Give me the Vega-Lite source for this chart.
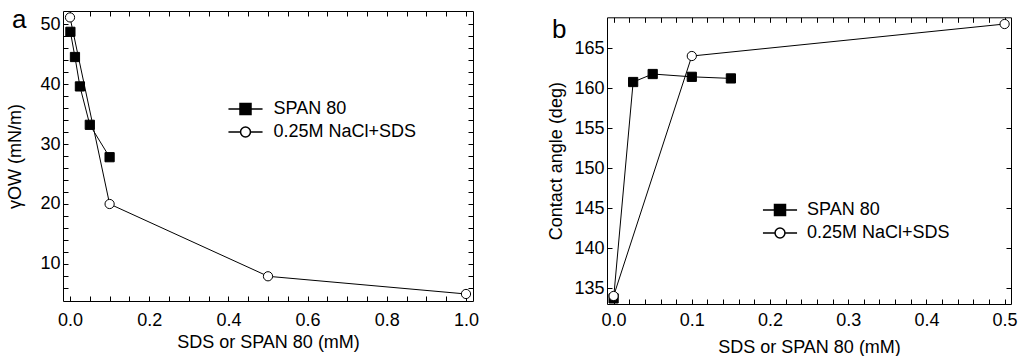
{
  "$schema": "https://vega.github.io/schema/vega-lite/v6.json",
  "background": "white",
  "padding": {"left": 6, "top": 6, "right": 0, "bottom": 0},
  "config": {
    "view": {"stroke": null},
    "font": "Liberation Sans",
    "axis": {
      "domainColor": "black", "domainWidth": 1,
      "tickColor": "black", "tickWidth": 1, "tickSize": -5,
      "labelColor": "black", "titleColor": "black",
      "labelFont": "Liberation Sans", "titleFont": "Liberation Sans",
      "labelFontSize": 18, "titleFontSize": 18, "titleFontWeight": "normal",
      "grid": false, "labelFlush": false, "labelOverlap": false, "labelBound": false
    },
    "legend": {
      "labelFont": "Liberation Sans", "labelFontSize": 18, "labelColor": "black",
      "padding": 0
    }
  },
  "datasets": {
    "a": [
      {"conc": 0.001, "val": 48.7, "series": "SPAN 80"},
      {"conc": 0.0125, "val": 44.5, "series": "SPAN 80"},
      {"conc": 0.025, "val": 39.6, "series": "SPAN 80"},
      {"conc": 0.05, "val": 33.2, "series": "SPAN 80"},
      {"conc": 0.1, "val": 27.8, "series": "SPAN 80"},
      {"conc": 0.0, "val": 51.1, "series": "0.25M NaCl+SDS"},
      {"conc": 0.1, "val": 20.0, "series": "0.25M NaCl+SDS"},
      {"conc": 0.5, "val": 7.95, "series": "0.25M NaCl+SDS"},
      {"conc": 1.0, "val": 5.0, "series": "0.25M NaCl+SDS"}
    ],
    "b": [
      {"conc": 0.0, "val": 133.7, "series": "SPAN 80"},
      {"conc": 0.025, "val": 160.75, "series": "SPAN 80"},
      {"conc": 0.05, "val": 161.75, "series": "SPAN 80"},
      {"conc": 0.1, "val": 161.4, "series": "SPAN 80"},
      {"conc": 0.15, "val": 161.2, "series": "SPAN 80"},
      {"conc": 0.0, "val": 134.0, "series": "0.25M NaCl+SDS"},
      {"conc": 0.1, "val": 164.0, "series": "0.25M NaCl+SDS"},
      {"conc": 0.5, "val": 168.0, "series": "0.25M NaCl+SDS"}
    ]
  },
  "bounds": "flush",
  "spacing": 134,
  "resolve": {
    "scale": {"fill": "independent", "shape": "independent"},
    "legend": {"fill": "independent", "shape": "independent"}
  },
  "hconcat": [
    {
      "width": 410, "height": 290,
      "title": {"text": "a", "anchor": "start", "frame": "group", "offset": 0, "baseline": "alphabetic", "dx": -51, "dy": 43, "fontSize": 26, "fontWeight": "normal", "font": "Liberation Sans", "color": "black"},
      "data": {"name": "a"},
      "resolve": {"axis": {"x": "independent", "y": "independent"}},
      "layer": [
        {
          "mark": {"type": "line", "color": "black", "strokeWidth": 1},
          "encoding": {
            "x": {"field": "conc", "type": "quantitative",
              "scale": {"domain": [-0.0177, 1.0177], "nice": false, "zero": false},
              "axis": {"orient": "bottom", "title": "SDS or SPAN 80 (mM)",
                "values": [0,0.05,0.1,0.15,0.2,0.25,0.3,0.35,0.4,0.45,0.5,0.55,0.6,0.65,0.7,0.75,0.8,0.85,0.9,0.95,1],
                "labelExpr": "round(datum.value*100) % 20 === 0 ? format(datum.value, '.1f') : ''",
                "labelPadding": 15, "titlePadding": 4}},
            "y": {"field": "val", "type": "quantitative",
              "scale": {"domain": [3.83, 52.17], "nice": false, "zero": false},
              "axis": {"orient": "left", "title": "γOW (mN/m)",
                "values": [6,8,10,12,14,16,18,20,22,24,26,28,30,32,34,36,38,40,42,44,46,48,50],
                "labelExpr": "datum.value % 10 === 0 ? '' + datum.value : ''",
                "labelPadding": 8, "titlePadding": 15.5}},
            "detail": {"field": "series"}
          }
        },
        {
          "mark": {"type": "point", "filled": true, "stroke": "black", "strokeWidth": 1, "opacity": 1, "size": 85},
          "encoding": {
            "x": {"field": "conc", "type": "quantitative",
              "axis": {"orient": "top", "labels": false, "title": null,
                "values": [0,0.05,0.1,0.15,0.2,0.25,0.3,0.35,0.4,0.45,0.5,0.55,0.6,0.65,0.7,0.75,0.8,0.85,0.9,0.95,1]}},
            "y": {"field": "val", "type": "quantitative",
              "axis": {"orient": "right", "labels": false, "title": null,
                "values": [6,8,10,12,14,16,18,20,22,24,26,28,30,32,34,36,38,40,42,44,46,48,50]}},
            "shape": {"condition": {"test": "datum.series === 'SPAN 80'", "value": "square"}, "value": "circle"},
            "fill": {"condition": {"test": "datum.series === 'SPAN 80'", "value": "black"}, "value": "white"}
          }
        },
        {
          "mark": {"type": "point", "filled": true, "stroke": "black", "strokeWidth": 1, "opacity": 1, "size": 0},
          "encoding": {
            "x": {"field": "conc", "type": "quantitative", "axis": null},
            "y": {"field": "val", "type": "quantitative", "axis": null},
            "shape": {"field": "series", "type": "nominal",
              "scale": {"domain": ["SPAN 80", "0.25M NaCl+SDS"], "range": ["M-1.55,0H1.55M-0.5,-0.5H0.5V0.5H-0.5Z", "M-1.55,0H-0.45M0.45,0H1.55M-0.45,0C-0.45,-0.2485,-0.2485,-0.45,0,-0.45C0.2485,-0.45,0.45,-0.2485,0.45,0C0.45,0.2485,0.2485,0.45,0,0.45C-0.2485,0.45,-0.45,0.2485,-0.45,0Z"]},
              "legend": {"title": null, "orient": "none", "legendX": 170.5, "legendY": 86, "symbolSize": 484, "rowPadding": 2, "labelOffset": 16}},
            "fill": {"field": "series", "type": "nominal",
              "scale": {"domain": ["SPAN 80", "0.25M NaCl+SDS"], "range": ["black", "white"]},
              "legend": {"title": null, "orient": "none", "legendX": 170.5, "legendY": 86, "symbolSize": 484, "rowPadding": 2, "labelOffset": 16}}
          }
        }
      ]
    },
    {
      "width": 404, "height": 293,
      "title": {"text": "b", "anchor": "start", "frame": "group", "offset": 0, "baseline": "alphabetic", "dx": -55, "dy": 53, "fontSize": 26, "fontWeight": "normal", "font": "Liberation Sans", "color": "black"},
      "data": {"name": "b"},
      "resolve": {"axis": {"x": "independent", "y": "independent"}},
      "layer": [
        {
          "mark": {"type": "line", "color": "black", "strokeWidth": 1},
          "encoding": {
            "x": {"field": "conc", "type": "quantitative",
              "scale": {"domain": [-0.00844, 0.50818], "nice": false, "zero": false},
              "axis": {"orient": "bottom", "title": "SDS or SPAN 80 (mM)",
                "values": [0,0.02,0.04,0.06,0.08,0.1,0.12,0.14,0.16,0.18,0.2,0.22,0.24,0.26,0.28,0.3,0.32,0.34,0.36,0.38,0.4,0.42,0.44,0.46,0.48,0.5],
                "labelExpr": "round(datum.value*100) % 10 === 0 ? format(datum.value, '.1f') : ''",
                "labelPadding": 12, "titlePadding": 9}},
            "y": {"field": "val", "type": "quantitative",
              "scale": {"domain": [133, 168.84], "range": [293, 6.3], "nice": false, "zero": false},
              "axis": {"orient": "left", "title": "Contact angle (deg)",
                "values": [135,140,145,150,155,160,165],
                "labelPadding": 8, "titlePadding": 8.5}},
            "detail": {"field": "series"}
          }
        },
        {
          "mark": {"type": "point", "filled": true, "stroke": "black", "strokeWidth": 1, "opacity": 1, "size": 85},
          "encoding": {
            "x": {"field": "conc", "type": "quantitative",
              "axis": {"orient": "top", "labels": false, "title": null, "offset": -6.3,
                "values": [0,0.02,0.04,0.06,0.08,0.1,0.12,0.14,0.16,0.18,0.2,0.22,0.24,0.26,0.28,0.3,0.32,0.34,0.36,0.38,0.4,0.42,0.44,0.46,0.48,0.5]}},
            "y": {"field": "val", "type": "quantitative",
              "axis": {"orient": "right", "labels": false, "title": null,
                "values": [135,140,145,150,155,160,165]}},
            "shape": {"condition": {"test": "datum.series === 'SPAN 80'", "value": "square"}, "value": "circle"},
            "fill": {"condition": {"test": "datum.series === 'SPAN 80'", "value": "black"}, "value": "white"}
          }
        },
        {
          "mark": {"type": "point", "filled": true, "stroke": "black", "strokeWidth": 1, "opacity": 1, "size": 0},
          "encoding": {
            "x": {"field": "conc", "type": "quantitative", "axis": null},
            "y": {"field": "val", "type": "quantitative", "axis": null},
            "shape": {"field": "series", "type": "nominal",
              "scale": {"domain": ["SPAN 80", "0.25M NaCl+SDS"], "range": ["M-1.55,0H1.55M-0.5,-0.5H0.5V0.5H-0.5Z", "M-1.55,0H-0.45M0.45,0H1.55M-0.45,0C-0.45,-0.2485,-0.2485,-0.45,0,-0.45C0.2485,-0.45,0.45,-0.2485,0.45,0C0.45,0.2485,0.2485,0.45,0,0.45C-0.2485,0.45,-0.45,0.2485,-0.45,0Z"]},
              "legend": {"title": null, "orient": "none", "legendX": 161, "legendY": 187, "symbolSize": 484, "rowPadding": 2, "labelOffset": 15}},
            "fill": {"field": "series", "type": "nominal",
              "scale": {"domain": ["SPAN 80", "0.25M NaCl+SDS"], "range": ["black", "white"]},
              "legend": {"title": null, "orient": "none", "legendX": 161, "legendY": 187, "symbolSize": 484, "rowPadding": 2, "labelOffset": 15}}
          }
        }
      ]
    }
  ]
}
